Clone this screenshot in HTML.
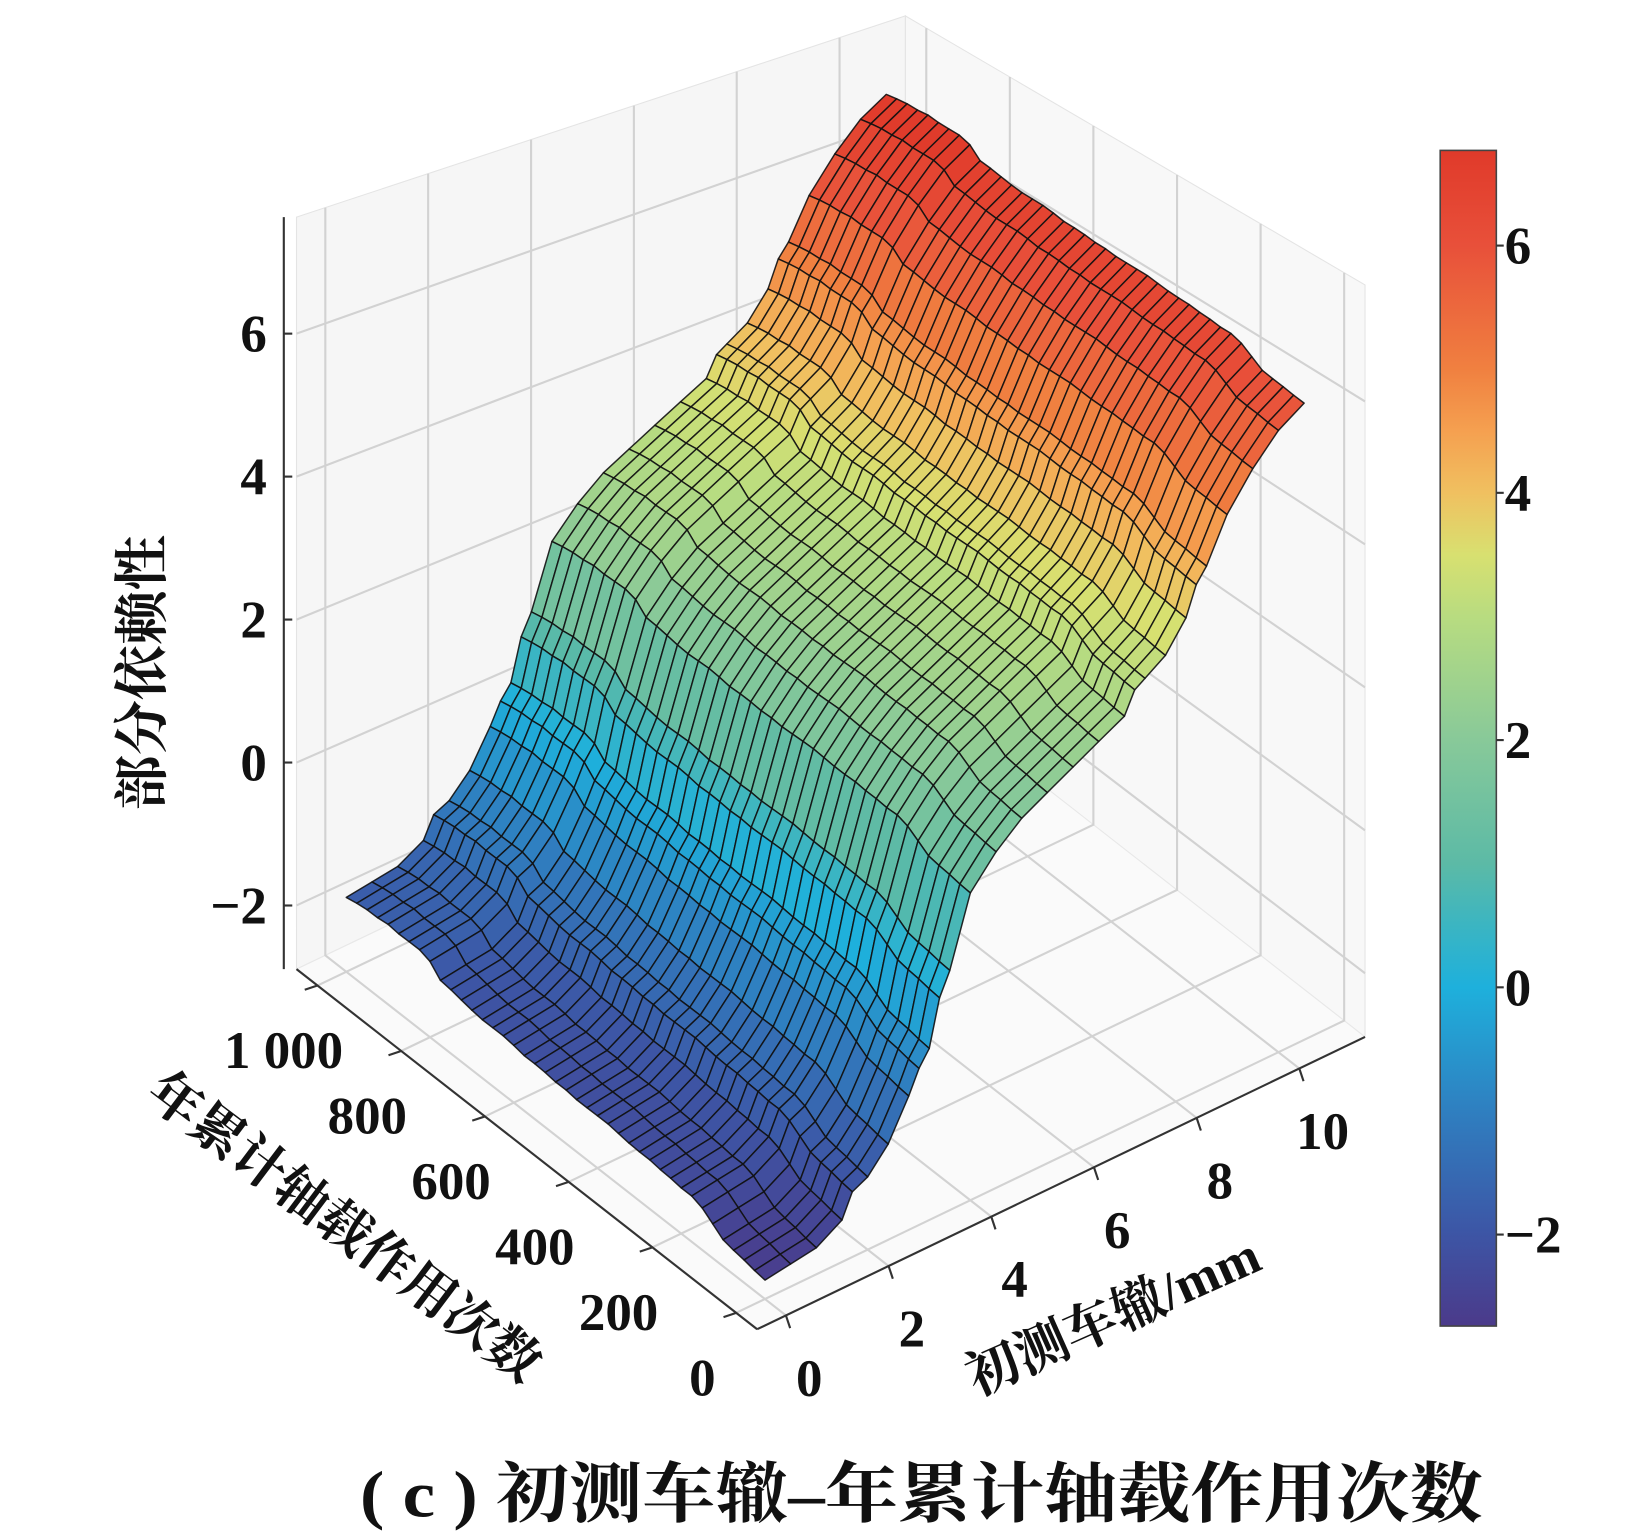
<!DOCTYPE html>
<html><head><meta charset="utf-8">
<style>
html,body{margin:0;padding:0;background:#fff;}
svg{display:block;}
text{font-family:"Liberation Serif","Noto Serif CJK SC","Noto Sans CJK SC",serif;fill:#111;font-weight:bold;}
</style></head>
<body>
<svg id="chart" xmlns="http://www.w3.org/2000/svg" width="1652" height="1540" viewBox="0 0 1560 1454" preserveAspectRatio="none">
  <g id="panes"></g>
  <g id="grid"></g>
  <g id="surface"></g>
  <g id="axes"></g>
  <g id="cbar"></g>
  <text x="0" y="0" font-size="52" text-anchor="middle" transform="translate(152,635) rotate(-90)" font-family="'Liberation Sans','Noto Sans CJK SC',sans-serif">部分依赖性</text>
  <text x="0" y="0" font-size="50" text-anchor="middle" transform="translate(315,1172) rotate(37)" font-family="'Liberation Sans','Noto Sans CJK SC',sans-serif">年累计轴载作用次数</text>
  <text x="0" y="0" font-size="50" text-anchor="middle" transform="translate(1058,1258) rotate(-24)" font-family="'Liberation Sans','Noto Sans CJK SC',sans-serif">初测车辙/mm</text>
  <text x="870" y="1432" font-size="62" text-anchor="middle" textLength="1060" lengthAdjust="spacingAndGlyphs" font-family="'Liberation Serif','Noto Serif CJK SC',serif">( c ) 初测车辙–年累计轴载作用次数</text>
</svg>
<script>
// ---- data ----
const xs = [0,0.5,1.0,1.5,1.7,2.0,2.4,2.8,3.0,3.2,3.4,3.6,4.0,4.5,5.0,5.5,6.0,6.5,7.0,7.2,7.4,7.8,8.2,8.4,8.6,9.0,9.5,10.0,10.5];
const zx = [-2.3,-2.25,-2.2,-2.0,-1.7,-1.6,-1.3,-0.8,-0.5,-0.3,0.3,0.6,1.5,1.9,2.2,2.4,2.6,2.8,3.0,3.3,3.4,3.6,4.0,4.4,4.6,5.2,5.7,6.1,6.35];
const ns = [0,25,50,75,100,125,150,175,200,225,250,275,300,325,350,375,400,425,450,475,500,525,550,575,600,625,650,675,700,725,750,775,800,825,850,875,900,925,950,975,1000];
const zn = [-0.35,-0.33,-0.3,-0.28,-0.25,-0.15,-0.05,0.0,0.0,0.02,0.03,0.05,0.05,0.06,0.08,0.1,0.1,0.1,0.1,0.12,0.12,0.14,0.15,0.15,0.18,0.2,0.2,0.2,0.22,0.25,0.28,0.3,0.45,0.5,0.5,0.5,0.52,0.5,0.5,0.48,0.45];
const zTicks = [-2,0,2,4,6];
const xTicks = [0,2,4,6,8,10];
const nTicks = [0,200,400,600,800,1000];
const nTickLabels = ["0","200","400","600","800","1 000"];
const cbTicks = [-2,0,2,4,6];
const cbTickLabels = ["−2","0","2","4","6"];
const zTickLabels = ["−2","0","2","4","6"];

// ---- projection ----
const XMIN=-0.56, XMAX=11.28, NMIN=-50, NMAX=1050, ZMIN=-2.89, ZMAX=7.63;
const CF=[715,1255], CR=[1289,979], CA=[280,915], CB=[855,640];
const HF=790, HR=710, HA=710, HB=625;
function P(x,n,z){
  const u=(x-XMIN)/(XMAX-XMIN), v=(n-NMIN)/(NMAX-NMIN);
  const wF=(1-u)*(1-v), wR=u*(1-v), wA=(1-u)*v, wB=u*v;
  const fx=CF[0]*wF+CR[0]*wR+CA[0]*wA+CB[0]*wB;
  const fy=CF[1]*wF+CR[1]*wR+CA[1]*wA+CB[1]*wB;
  const h=HF*wF+HR*wR+HA*wA+HB*wB;
  return [fx, fy-(z-ZMIN)/(ZMAX-ZMIN)*h, u+v];
}
const NS="http://www.w3.org/2000/svg";
function mk(tag,attrs,parent){const e=document.createElementNS(NS,tag);for(const k in attrs)e.setAttribute(k,attrs[k]);parent.appendChild(e);return e;}
function pts(a){return a.map(p=>p[0].toFixed(1)+","+p[1].toFixed(1)).join(" ");}

// colormap
const cmV=[-2.74,-2,-1,0,0.5,1,2,3,3.5,4,4.5,5,6,6.77];
const cmC=["#4b3a8a","#3d55a5","#2f7fc0","#1eb0dc","#3bb5c2","#5cbaa6","#88c999","#b8dc80","#d8e070","#f0c060","#f5a050","#f08040","#e8503a","#e03a2a"];
function hex(c){return [parseInt(c.slice(1,3),16),parseInt(c.slice(3,5),16),parseInt(c.slice(5,7),16)];}
function cmap(z){
  if(z<=cmV[0])return cmC[0]; if(z>=cmV[cmV.length-1])return cmC[cmC.length-1];
  for(let i=0;i<cmV.length-1;i++){ if(z<=cmV[i+1]){const t=(z-cmV[i])/(cmV[i+1]-cmV[i]);const a=hex(cmC[i]),b=hex(cmC[i+1]);
    return "rgb("+a.map((c,k)=>Math.round(c+(b[k]-c)*t)).join(",")+")";}}
}

// ---- panes ----
const panes=document.getElementById('panes');
const floorP=[P(XMIN,NMIN,ZMIN),P(XMAX,NMIN,ZMIN),P(XMAX,NMAX,ZMIN),P(XMIN,NMAX,ZMIN)];
const backP=[P(XMIN,NMAX,ZMIN),P(XMAX,NMAX,ZMIN),P(XMAX,NMAX,ZMAX),P(XMIN,NMAX,ZMAX)];
const rightP=[P(XMAX,NMIN,ZMIN),P(XMAX,NMAX,ZMIN),P(XMAX,NMAX,ZMAX),P(XMAX,NMIN,ZMAX)];
let e;
e=mk('polygon',{points:pts(backP),fill:"#f6f6f6",stroke:"#e4e4e4","stroke-width":1},panes);


e=mk('polygon',{points:pts(rightP),fill:"#f8f8f8",stroke:"#e4e4e4","stroke-width":1},panes);


e=mk('polygon',{points:pts(floorP),fill:"#fafafa",stroke:"#e8e8e8","stroke-width":1},panes);



// ---- gridlines ----
const grid=document.getElementById('grid');
const gs={stroke:"#d2d2d2","stroke-width":2,fill:"none"};
zTicks.forEach(z=>{
  const l=mk('polyline',Object.assign({points:pts([P(XMIN,NMAX,z),P(XMAX,NMAX,z),P(XMAX,NMIN,z)])},gs),grid);
  
  
});
xTicks.forEach(x=>{
  const l=mk('polyline',Object.assign({points:pts([P(x,NMIN,ZMIN),P(x,NMAX,ZMIN),P(x,NMAX,ZMAX)])},gs),grid);
  
  
});
nTicks.forEach(n=>{
  const l=mk('polyline',Object.assign({points:pts([P(XMIN,n,ZMIN),P(XMAX,n,ZMIN),P(XMAX,n,ZMAX)])},gs),grid);
  
  
});

// ---- surface ----
const surf=document.getElementById('surface');
const quads=[];
for(let i=0;i<xs.length-1;i++){
  for(let j=0;j<ns.length-1;j++){
    const c=[[i,j],[i+1,j],[i+1,j+1],[i,j+1]];
    const p=c.map(([a,b])=>P(xs[a],ns[b],zx[a]+zn[b]));
    const zAvg=c.reduce((s,[a,b])=>s+zx[a]+zn[b],0)/4;
    const d=p.reduce((s,q)=>s+q[2],0)/4;
    quads.push({p,zAvg,d});
  }
}
quads.sort((a,b)=>b.d-a.d);
quads.forEach(q=>{
  const poly=mk('polygon',{points:pts(q.p),fill:cmap(q.zAvg),stroke:"#111","stroke-width":1.4,"stroke-opacity":0.9,"stroke-linejoin":"round"},surf);
  
  
});

// ---- axes ----
const axes=document.getElementById('axes');
const as={stroke:"#333","stroke-width":2,fill:"none"};
let a0=P(XMIN,NMAX,ZMIN), a1=P(XMIN,NMAX,ZMAX);
e=mk('line',Object.assign({x1:a0[0]-12,y1:a0[1],x2:a1[0]-12,y2:a1[1]},as),axes);


zTicks.forEach((z,k)=>{
  const p=P(XMIN,NMAX,z);
  const t=mk('line',{x1:p[0]-12,y1:p[1],x2:p[0]-4,y2:p[1],stroke:"#333","stroke-width":2},axes);
  
  
  const tx=mk('text',{x:p[0]-28,y:p[1]+17,"font-size":50,"text-anchor":"end"},axes);
  tx.textContent=zTickLabels[k];
  
  
});
a0=P(XMIN,NMIN,ZMIN); a1=P(XMIN,NMAX,ZMIN);
e=mk('line',Object.assign({x1:a0[0],y1:a0[1],x2:a1[0],y2:a1[1]},as),axes);


nTicks.forEach((n,k)=>{
  const p=P(XMIN,n,ZMIN);
  const t=mk('line',{x1:p[0],y1:p[1],x2:p[0]-12,y2:p[1]+4,stroke:"#333","stroke-width":2},axes);
  
  
  const tx=mk('text',{x:p[0]-32,y:p[1]+78,"font-size":50,"text-anchor":"middle"},axes);
  tx.textContent=nTickLabels[k];
  
  
});
a0=P(XMIN,NMIN,ZMIN); a1=P(XMAX,NMIN,ZMIN);
e=mk('line',Object.assign({x1:a0[0],y1:a0[1],x2:a1[0],y2:a1[1]},as),axes);


xTicks.forEach(x=>{
  const p=P(x,NMIN,ZMIN);
  const t=mk('line',{x1:p[0],y1:p[1],x2:p[0]+4,y2:p[1]+12,stroke:"#333","stroke-width":2},axes);
  
  
  const tx=mk('text',{x:p[0]+22,y:p[1]+76,"font-size":50,"text-anchor":"middle"},axes);
  tx.textContent=String(x);
  
  
});

// ---- colorbar ----
const cb=document.getElementById('cbar');
const CBX=1360, CBW=53, CBT=142, CBB=1252, CBMIN=-2.74, CBMAX=6.77;
const defs=mk('defs',{},cb);
const lg=mk('linearGradient',{id:"cbgrad",x1:0,y1:1,x2:0,y2:0},defs);
cmV.forEach((v,i)=>{mk('stop',{offset:((v-CBMIN)/(CBMAX-CBMIN)).toFixed(4),"stop-color":cmC[i]},lg);});
e=mk('rect',{x:CBX,y:CBT,width:CBW,height:CBB-CBT,fill:"url(#cbgrad)",stroke:"#444","stroke-width":1.5},cb);


function cbY(v){return CBB-(v-CBMIN)/(CBMAX-CBMIN)*(CBB-CBT);}
cbTicks.forEach((v,k)=>{
  const y=cbY(v);
  const t=mk('line',{x1:CBX+CBW,y1:y,x2:CBX+CBW+7,y2:y,stroke:"#333","stroke-width":2},cb);
  
  
  const tx=mk('text',{x:CBX+CBW+8,y:y+17,"font-size":50,"text-anchor":"start"},cb);
  tx.textContent=cbTickLabels[k];
  
  
});
</script>
</body></html>
